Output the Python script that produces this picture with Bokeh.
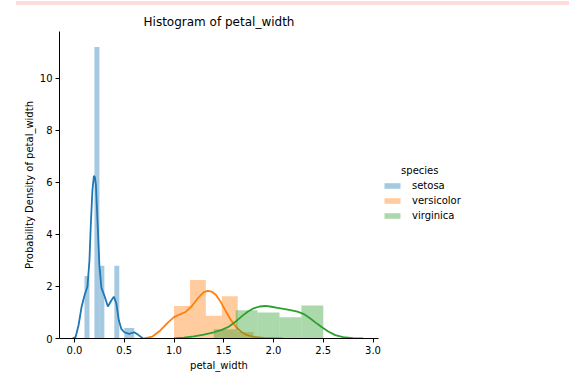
from bokeh.plotting import figure
from bokeh.models import Legend, LegendItem, FixedTicker, NumeralTickFormatter, Div
from bokeh.layouts import column
from bokeh.embed import file_html
from bokeh.resources import INLINE

species = ["setosa", "versicolor", "virginica"]
colors = ["#1f77b4", "#ff7f0e", "#2ca02c"]

# histogram bins (density)
setosa_left = [0.10, 0.20, 0.25, 0.40, 0.50, 0.55]
setosa_right = [0.15, 0.25, 0.30, 0.45, 0.55, 0.60]
setosa_density = [2.4, 11.2, 2.8, 2.8, 0.4, 0.4]

versicolor_left = [1.00, 1.16, 1.32, 1.48, 1.64]
versicolor_right = [1.16, 1.32, 1.48, 1.64, 1.80]
versicolor_density = [1.25, 2.25, 0.875, 1.625, 0.25]

virginica_left = [1.40, 1.62, 1.84, 2.06, 2.28]
virginica_right = [1.62, 1.84, 2.06, 2.28, 2.50]
virginica_density = [0.36, 1.09, 1.00, 0.82, 1.27]

# density curves
setosa_kde_x = [-0.02, 0.01, 0.04, 0.07, 0.10, 0.13, 0.15, 0.165, 0.18, 0.195, 0.205, 0.215,
                0.23, 0.25, 0.27, 0.30, 0.335, 0.37, 0.395, 0.42, 0.445, 0.47, 0.50, 0.55,
                0.60, 0.64, 0.69]
setosa_kde_y = [0.0, 0.05, 0.5, 1.2, 1.65, 2.0, 3.0, 4.5, 5.7, 6.25, 6.2, 5.9,
                4.6, 2.8, 1.95, 1.65, 1.23, 1.46, 1.61, 1.35, 0.7, 0.37, 0.24, 0.18,
                0.24, 0.14, 0.0]

versicolor_kde_x = [0.70, 0.78, 0.86, 0.94, 1.00, 1.06, 1.12, 1.18, 1.24, 1.30, 1.34, 1.38,
                    1.42, 1.47, 1.52, 1.57, 1.62, 1.67, 1.72, 1.80, 1.90, 2.00, 2.09]
versicolor_kde_y = [0.0, 0.07, 0.30, 0.62, 0.82, 0.93, 1.03, 1.25, 1.55, 1.78, 1.83, 1.80,
                    1.68, 1.40, 1.05, 0.72, 0.46, 0.27, 0.15, 0.06, 0.02, 0.01, 0.0]

virginica_kde_x = [1.00, 1.10, 1.20, 1.30, 1.40, 1.48, 1.55, 1.62, 1.68, 1.74, 1.80, 1.86,
                   1.92, 1.98, 2.04, 2.10, 2.17, 2.24, 2.30, 2.36, 2.42, 2.48, 2.55, 2.62,
                   2.70, 2.80, 2.90]
virginica_kde_y = [0.0, 0.03, 0.08, 0.15, 0.24, 0.33, 0.45, 0.65, 0.85, 1.03, 1.16, 1.23,
                   1.25, 1.22, 1.18, 1.14, 1.09, 1.03, 0.95, 0.80, 0.62, 0.45, 0.27, 0.13,
                   0.05, 0.01, 0.0]

x_ticks = [0.0, 0.5, 1.0, 1.5, 2.0, 2.5, 3.0]
y_ticks = [0, 2, 4, 6, 8, 10]

FONT = "DejaVu Sans"

p = figure(frame_width=319, frame_height=307, x_range=(-0.151, 3.055), y_range=(0, 11.8),
           output_backend="svg", toolbar_location=None,
           min_border_left=59, min_border_right=175, min_border_bottom=45, min_border_top=31,
           title="Histogram of petal_width")
p.outline_line_color = None
p.grid.visible = False
p.background_fill_color = "white"

p.title.text_font = FONT
p.title.text_font_size = "12px"
p.title.text_font_style = "normal"
p.title.text_color = "#000000"
p.title.align = "center"
p.title.standoff = 5

hist = [(setosa_left, setosa_right, setosa_density, setosa_kde_x, setosa_kde_y),
        (versicolor_left, versicolor_right, versicolor_density, versicolor_kde_x, versicolor_kde_y),
        (virginica_left, virginica_right, virginica_density, virginica_kde_x, virginica_kde_y)]

items = []
for name, col, (l, r, d, kx, ky) in zip(species, colors, hist):
    q = p.quad(left=l, right=r, top=d, bottom=0, fill_color=col, fill_alpha=0.4, line_color=None)
    p.line(kx, ky, line_color=col, line_width=1.8)
    items.append(LegendItem(label=name, renderers=[q]))

for ax in (p.xaxis[0], p.yaxis[0]):
    ax.axis_line_color = "#000000"
    ax.axis_line_width = 1
    ax.major_tick_line_color = "#000000"
    ax.major_tick_out = 4
    ax.major_tick_in = 0
    ax.minor_tick_line_color = None
    ax.major_label_text_font = FONT
    ax.major_label_text_font_size = "10px"
    ax.major_label_text_color = "#000000"
    ax.axis_label_text_font = FONT
    ax.axis_label_text_font_size = "10px"
    ax.axis_label_text_font_style = "normal"
    ax.axis_label_text_color = "#000000"
    ax.major_label_standoff = 3

p.xaxis.ticker = FixedTicker(ticks=x_ticks)
p.xaxis.formatter = NumeralTickFormatter(format="0.0")
p.yaxis.ticker = FixedTicker(ticks=y_ticks)
p.xaxis.axis_label = "petal_width"
p.yaxis.axis_label = "Probability Density of petal_width"
p.xaxis.axis_label_standoff = 3
p.yaxis.axis_label_standoff = 2

legend = Legend(items=items, title="\u00a0\u00a0\u00a0\u00a0\u00a0\u00a0species",
                location=(4, 115))
legend.border_line_color = None
legend.background_fill_alpha = 0
legend.title_text_font = FONT
legend.title_text_font_size = "10px"
legend.title_text_font_style = "normal"
legend.title_text_color = "#000000"
legend.title_standoff = 2
legend.label_text_font = FONT
legend.label_text_font_size = "10px"
legend.label_text_color = "#000000"
legend.glyph_width = 20
legend.glyph_height = 7
legend.label_height = 15
legend.label_standoff = 10
legend.spacing = 0
legend.padding = 0
legend.margin = 0
p.add_layout(legend, "right")

band = Div(text="", width=558, height=4,
           styles={"position": "fixed", "top": "-4px", "left": "11px", "width": "558px",
                   "height": "4px", "background-color": "#ffdcdc", "z-index": "10"})
layout = column(band, p, spacing=0)

open("out.html", "w").write(file_html(layout, INLINE))
